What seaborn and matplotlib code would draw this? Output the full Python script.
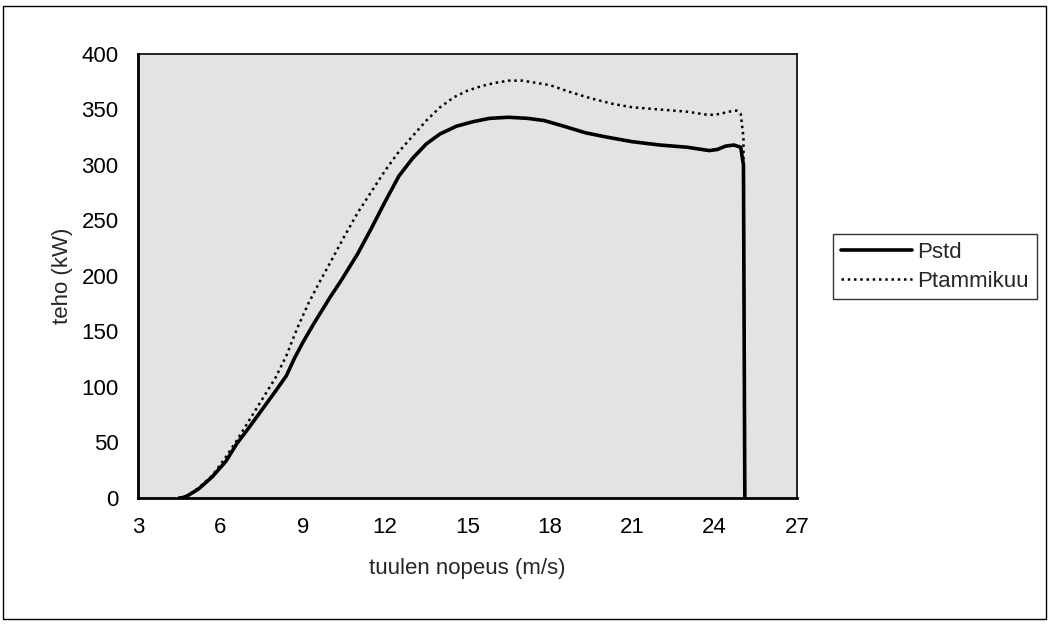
import numpy as np
import pandas as pd
import matplotlib
matplotlib.use('Agg')
import matplotlib.pyplot as plt
import seaborn as sns

# tuulen nopeus (m/s) ja teho (kW), luettu kuvasta
wind_std = [4.5, 4.65, 4.8, 5.2, 5.7, 6.2, 6.6, 7.0, 7.5, 8.0, 8.4, 8.7, 9.0, 9.4, 10.0,
            10.4, 11.0, 11.5, 12.0, 12.5, 13.0, 13.5, 14.0, 14.6, 15.2, 15.8, 16.5,
            17.2, 17.8, 18.5, 19.3, 20.1, 21.0, 22.0, 23.0, 23.8, 24.1, 24.4, 24.7,
            24.95, 25.05, 25.1]
p_std = [0, 0.5, 2, 8, 19, 33, 49, 62, 79, 96, 110, 126, 140, 157, 181,
         196, 220, 243, 267, 290, 306, 319, 328, 335, 339, 342, 343,
         342, 340, 335, 329, 325, 321, 318, 316, 313, 314, 317, 318,
         316, 300, 0]

wind_jan = [4.5, 4.8, 5.2, 5.7, 6.2, 6.6, 7.0, 7.5, 8.0, 8.4, 8.8, 9.2, 9.6, 10.0,
            10.5, 11.0, 11.5, 12.0, 12.5, 13.0, 13.5, 14.0, 14.5, 15.0, 15.5, 16.0,
            16.5, 17.0, 17.5, 18.0, 18.7, 19.5, 20.3, 21.0, 22.0, 23.0, 23.8, 24.2,
            24.5, 24.8, 24.95, 25.05, 25.1]
p_jan = [0, 2, 9, 20, 37, 52, 68, 88, 108, 128, 153, 175, 194, 212,
         235, 257, 276, 295, 312, 326, 340, 352, 361, 367, 371, 374,
         376, 376, 374, 372, 366, 360, 355, 352, 350, 348, 345, 346,
         348, 349, 346, 325, 0]

xticks = [3, 6, 9, 12, 15, 18, 21, 24, 27]
yticks = [0, 50, 100, 150, 200, 250, 300, 350, 400]

sns.set_style('white')
plt.rcParams['font.family'] = ['Liberation Sans', 'DejaVu Sans']

W, H = 1048, 625
fig = plt.figure(figsize=(W / 100, H / 100), dpi=100)
ax = fig.add_axes([138 / W, 1 - 498 / H, (797 - 138) / W, (498 - 54) / H])
ax.set_facecolor('#e3e3e3')

std = pd.DataFrame({'v': wind_std, 'P': p_std})
jan = pd.DataFrame({'v': wind_jan, 'P': p_jan})

sns.lineplot(data=std, x='v', y='P', color='black', lw=2.6, sort=False,
             estimator=None, ax=ax, label='Pstd')
sns.lineplot(data=jan, x='v', y='P', color='black', lw=1.8, linestyle=(0, (1, 1.5)),
             sort=False, estimator=None, ax=ax, label='Ptammikuu')

ax.set_xlim(3, 27)
ax.set_ylim(0, 400)
ax.set_xticks(xticks)
ax.set_yticks(yticks)
ax.tick_params(direction='inout', length=10, width=1.1, colors='black',
               labelsize=16, pad=9)
for side in ['left', 'bottom']:
    ax.spines[side].set_linewidth(2)
    ax.spines[side].set_color('black')
for side in ['top', 'right']:
    ax.spines[side].set_linewidth(1.2)
    ax.spines[side].set_color('black')

ax.set_xlabel('tuulen nopeus (m/s)', fontsize=16, labelpad=14)
ax.set_ylabel('teho (kW)', fontsize=16, labelpad=6)

ax.get_legend().remove()
h, l = ax.get_legend_handles_labels()
leg = fig.legend(h, l, loc='upper left', bbox_to_anchor=(833 / W, 1 - 234 / H),
                 frameon=True, fancybox=False, edgecolor='black', borderaxespad=0,
                 fontsize=16, handlelength=3.2, handletextpad=0.25,
                 labelspacing=0.35, borderpad=0.35)
leg.get_frame().set_linewidth(1)

# reunus koko kuvan ympäri
fig.add_artist(plt.Rectangle((3 / W, 1 - 619 / H), (1046 - 3) / W, (619 - 6) / H,
                             transform=fig.transFigure, fill=False, lw=1, ec='black'))

fig.savefig('out.png', dpi=100)
